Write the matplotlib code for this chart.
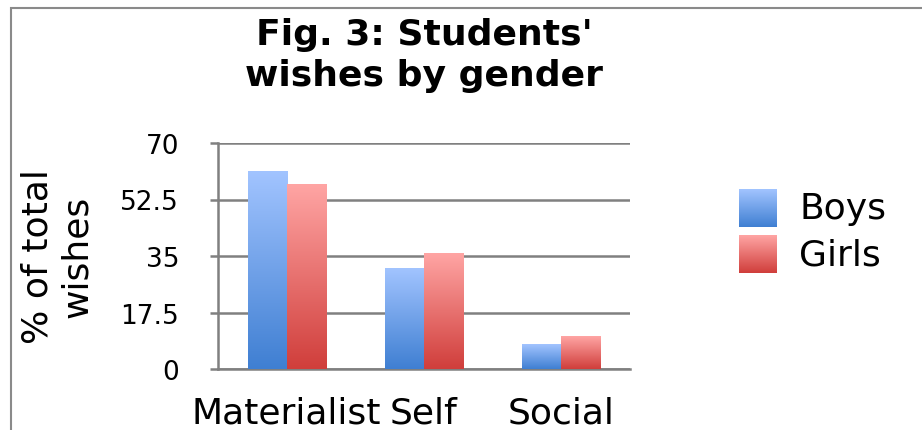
import numpy as np
import matplotlib.pyplot as plt
from matplotlib.patches import Rectangle
from matplotlib.colors import LinearSegmentedColormap

# values (% of total wishes)
categories = ['Materialist', 'Self', 'Social']
boys = [61.2, 31.0, 7.7]
girls = [57.3, 35.9, 10.2]
yticks = [0, 17.5, 35, 52.5, 70]
ytick_labels = ['0', '17.5', '35', '52.5', '70']

boys_cmap = LinearSegmentedColormap.from_list('boys', ['#3f7fd2', '#a2c4ff'])
girls_cmap = LinearSegmentedColormap.from_list('girls', ['#d03e3b', '#ffa5a4'])
grad = np.linspace(0, 1, 256).reshape(-1, 1)

W, H = 922, 431
fig = plt.figure(figsize=(W / 100, H / 100), dpi=100)
ax = fig.add_axes([218 / W, 1 - 370 / H, 412 / W, 226 / H])

x = np.arange(len(categories))
bw = 0.285
b1 = ax.bar(x - bw / 2, boys, bw, color='none', zorder=3)
b2 = ax.bar(x + bw / 2, girls, bw, color='none', zorder=3)

# fill each bar with a vertical gradient
for bars, cmap in [(b1, boys_cmap), (b2, girls_cmap)]:
    for r in bars:
        x0, y0 = r.get_x(), r.get_y()
        ax.imshow(grad, cmap=cmap, origin='lower', aspect='auto',
                  extent=(x0, x0 + r.get_width(), y0, y0 + r.get_height()),
                  zorder=3)

ax.set_xlim(-0.5, 2.5)
ax.set_ylim(0, 70)
ax.set_yticks(yticks)
ax.set_yticklabels(ytick_labels)
ax.set_xticks(x)
ax.set_xticklabels(categories)

grid_col = '#808080'
ax.yaxis.grid(True, color=grid_col, linewidth=1.8, zorder=0)
ax.set_axisbelow(True)
for s in ['top', 'right']:
    ax.spines[s].set_visible(False)
for s in ['left', 'bottom']:
    ax.spines[s].set_color(grid_col)
    ax.spines[s].set_linewidth(1.8)
ax.tick_params(axis='y', length=6, width=1.8, color=grid_col, pad=22,
               labelsize=19)
ax.tick_params(axis='x', length=0, pad=19, labelsize=26)

# title and y label
fig.text(424 / W, 1 - 18 / H, "Fig. 3: Students'\nwishes by gender",
         ha='center', va='top', fontsize=26, fontweight='bold',
         linespacing=1.25)
fig.text(57 / W, 1 - 257 / H, '% of total\nwishes', rotation=90,
         ha='center', va='center', fontsize=26, linespacing=1.2,
         multialignment='center')

# legend drawn by hand so the swatches keep the gradient
legend_items = [('Boys', boys_cmap, 190), ('Girls', girls_cmap, 236)]
for label, cmap, top in legend_items:
    lax = fig.add_axes([739 / W, 1 - (top + 38) / H, 38 / W, 38 / H])
    lax.imshow(grad, cmap=cmap, origin='lower', aspect='auto')
    lax.axis('off')
    fig.text(799 / W, 1 - (top + 19) / H, label, ha='left', va='center',
             fontsize=26)

# outer frame of the chart area
fig.patches.append(Rectangle((11 / W, -0.1), 2, 1.1 - 8.5 / H,
                             transform=fig.transFigure, fill=False,
                             edgecolor='#8a8a8a', linewidth=1.5))

fig.savefig('out.png', dpi=100)
